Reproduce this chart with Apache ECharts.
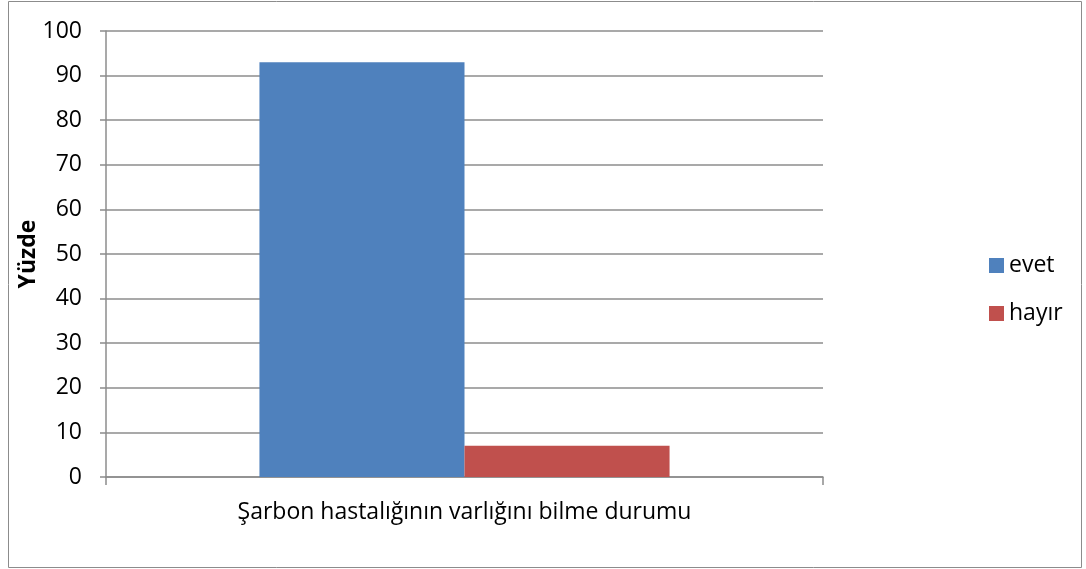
<!DOCTYPE html>
<html>
<head>
<meta charset="utf-8">
<script src="https://cdn.jsdelivr.net/npm/echarts@6/dist/echarts.min.js"></script>
<style>
  html, body { margin: 0; padding: 0; background: #fff; }
  #chart { width: 1086px; height: 569px; }
</style>
</head>
<body>
<div id="chart"></div>
<script>
// veriler
var categories = ['Şarbon hastalığının varlığını bilme durumu'];
var evet = [93];
var hayir = [7];

(function () {
    var myChart = echarts.init(document.getElementById('chart'));
    var font = '"Open Sans", "Noto Sans", sans-serif';
    var option = {
        color: ['#4F81BD', '#C0504D'],
        animation: false,
        textStyle: { fontFamily: font },
        graphic: [{
            type: 'rect',
            shape: { x: 8.5, y: 1.5, width: 1073, height: 566 },
            style: { fill: 'none', stroke: '#8c8c8c', lineWidth: 1 }
        }],
        legend: {
            orient: 'vertical',
            left: 984,
            top: 249,
            itemWidth: 15,
            itemHeight: 15,
            itemGap: 25,
            icon: 'rect',
            textStyle: { fontSize: 23, color: '#000', fontFamily: font }
        },
        grid: {
            left: 106,
            right: 263,
            top: 31,
            bottom: 92
        },
        xAxis: {
            type: 'category',
            data: categories,
            axisLine: { lineStyle: { color: '#8c8c8c', width: 1.5 } },
            axisTick: { show: true, length: 8, lineStyle: { color: '#8c8c8c', width: 1.5 } },
            axisLabel: { fontSize: 23, color: '#000', margin: 24, fontFamily: font }
        },
        yAxis: {
            type: 'value',
            min: 0,
            max: 100,
            interval: 10,
            name: 'Yüzde',
            nameLocation: 'middle',
            nameRotate: 90,
            nameGap: 66,
            nameMoveOverlap: false,
            nameTextStyle: { fontSize: 23, fontWeight: 'bold', color: '#000', fontFamily: font },
            axisLine: { show: true, lineStyle: { color: '#8c8c8c', width: 1.5 } },
            axisTick: { show: true, length: 6, lineStyle: { color: '#8c8c8c', width: 1.5 } },
            splitLine: { lineStyle: { color: '#8c8c8c', width: 1.5 } },
            axisLabel: { fontSize: 23, color: '#000', margin: 24, fontFamily: font }
        },
        series: [
            {
                name: 'evet',
                type: 'bar',
                data: evet,
                barGap: '0%',
                barCategoryGap: '42.8%'
            },
            {
                name: 'hayır',
                type: 'bar',
                data: hayir
            }
        ]
    };
    myChart.setOption(option);
})();
</script>
</body>
</html>
